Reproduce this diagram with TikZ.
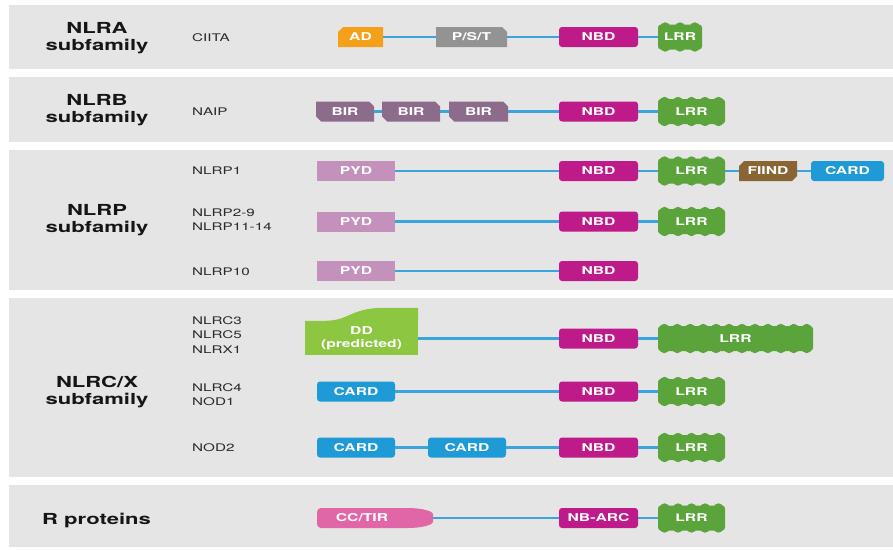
\documentclass[tikz,border=0pt]{standalone}
\usepackage{fontspec}
\setmainfont{TeX Gyre Heros}[FakeStretch=1.45]
\usetikzlibrary{calc}
\definecolor{band}{HTML}{E5E5E5}
\definecolor{linkblue}{HTML}{3AA4DC}
\definecolor{adorange}{HTML}{F5A01A}
\definecolor{pstgray}{HTML}{939393}
\definecolor{nbdmag}{HTML}{BE1A8A}
\definecolor{lrrgreen}{HTML}{5BA33B}
\definecolor{birmauve}{HTML}{8C6B8B}
\definecolor{pydmauve}{HTML}{C391BC}
\definecolor{fiindbrown}{HTML}{8A6534}
\definecolor{cardblue}{HTML}{1E9AD6}
\definecolor{ddgreen}{HTML}{8DC641}
\definecolor{ccpink}{HTML}{E066A8}
\definecolor{famtext}{HTML}{151515}
\definecolor{memtext}{HTML}{2A2A2A}
\newcommand\famfont{\fontsize{15.2}{17}\selectfont\bfseries}
\newcommand\memfont{\fontsize{10.5}{14.5}\selectfont}
\newcommand\domfont{\fontsize{10.8}{13}\selectfont\bfseries}
\newcommand\lrrbumps[2]{%
  \foreach \i in {1,...,#2}{%
    \fill[lrrgreen] ($(#1.north west)!{(\i-0.5)/#2}!(#1.north east)+(0,3.2)$) circle (5.2);
    \fill[lrrgreen] ($(#1.south west)!{(\i-0.5)/#2}!(#1.south east)+(0,-3.2)$) circle (5.2);
  }%
}
\begin{document}
\begin{tikzpicture}[x=1pt,y=-1pt,
  fam/.style={font=\famfont, text=famtext, align=center, inner sep=0pt},
  mem/.style={font=\memfont, text=memtext, align=left, anchor=west, inner sep=0pt},
  dom/.style={minimum height=20pt, inner sep=0pt, text=white, font=\domfont},
  plain/.style={dom, fill=#1, rounded corners=3pt},
  lrr/.style={dom, fill=lrrgreen, rounded corners=3pt, minimum height=25pt},
  conn/.style={draw=linkblue, line width=2.4pt},
  chNW/.style={dom, fill=band, path picture={\fill[#1]
      (path picture bounding box.south west) -- ([yshift=-5pt]path picture bounding box.north west)
      -- ([xshift=5pt]path picture bounding box.north west) -- (path picture bounding box.north east)
      -- (path picture bounding box.south east) -- cycle;}},
  chNE/.style={dom, fill=band, path picture={\fill[#1]
      (path picture bounding box.south west) -- (path picture bounding box.north west)
      -- ([xshift=-5pt]path picture bounding box.north east) -- ([yshift=-5pt]path picture bounding box.north east)
      -- (path picture bounding box.south east) -- cycle;}},
  chNESW/.style={dom, fill=band, path picture={\fill[#1]
      ([xshift=5pt]path picture bounding box.south west) -- ([yshift=5pt]path picture bounding box.south west)
      -- (path picture bounding box.north west)
      -- ([xshift=-5pt]path picture bounding box.north east) -- ([yshift=-5pt]path picture bounding box.north east)
      -- (path picture bounding box.south east) -- cycle;}},
  chNWSE/.style={dom, fill=band, path picture={\fill[#1]
      (path picture bounding box.south west) -- ([yshift=-5pt]path picture bounding box.north west)
      -- ([xshift=5pt]path picture bounding box.north west) -- (path picture bounding box.north east)
      -- ([yshift=5pt]path picture bounding box.south east) -- ([xshift=-5pt]path picture bounding box.south east)
      -- cycle;}},
  bullet/.style={dom, fill=band, rounded corners=4pt, path picture={\fill[#1]
      (path picture bounding box.south west) -- (path picture bounding box.north west)
      -- ([xshift=-30pt]path picture bounding box.north east)
      .. controls ([xshift=-8pt]path picture bounding box.north east) and ([yshift=6pt]path picture bounding box.east) .. (path picture bounding box.east)
      .. controls ([yshift=-6pt]path picture bounding box.east) and ([xshift=-8pt]path picture bounding box.south east) .. ([xshift=-30pt]path picture bounding box.south east)
      -- cycle;}}
]
\useasboundingbox (0,0) rectangle (893,549);
\fill[white] (0,0) rectangle (893,549);
% bands
\fill[band] (9,5) rectangle (893,69);
\fill[band] (9,77) rectangle (893,142);
\fill[band] (9,150) rectangle (893,290);
\fill[band] (9,298) rectangle (893,477);
\fill[band] (9,485) rectangle (893,547);

% family labels
\node[fam] (fNLRA) at (97,38.5) {NLRA\\subfamily};
\node[fam] (fNLRB) at (97,110.5) {NLRB\\subfamily};
\node[fam] (fNLRP) at (97,220) {NLRP\\subfamily};
\node[fam] (fNLRC) at (97,392.5) {NLRC/X\\subfamily};
\node[fam, anchor=west] (fR) at (42,520) {R proteins};

% member labels
\node[mem] (mCIITA) at (192,37.5) {CIITA};
\node[mem] (mNAIP) at (192,111.5) {NAIP};
\node[mem] (mP1) at (192,171) {NLRP1};
\node[mem] (mP2) at (192,219.5) {NLRP2-9\\NLRP11-14};
\node[mem] (mP10) at (192,271.5) {NLRP10};
\node[mem] (mC3) at (192,335) {NLRC3\\NLRC5\\NLRX1};
\node[mem] (mC4) at (192,394.5) {NLRC4\\NOD1};
\node[mem] (mN2) at (192,448) {NOD2};

% CIITA row
\node[chNW=adorange, minimum width=45pt] (ad) at (360.5,37) {AD};
\node[chNE=pstgray, minimum width=71pt] (pst) at (471.5,37) {P/S/T};
\node[plain=nbdmag, minimum width=79pt] (nbd1) at (598.5,37) {NBD};
\node[lrr, minimum width=44pt] (lrr1) at (680,37) {LRR};
\lrrbumps{lrr1}{3}
\draw[conn] (ad) -- (pst);
\draw[conn] (pst) -- (nbd1);
\draw[conn] (nbd1) -- (lrr1);

% NAIP row
\node[chNESW=birmauve, minimum width=58pt] (bir1) at (345,111.5) {BIR};
\node[chNESW=birmauve, minimum width=58pt] (bir2) at (411,111.5) {BIR};
\node[chNESW=birmauve, minimum width=59pt] (bir3) at (478.5,111.5) {BIR};
\node[plain=nbdmag, minimum width=79pt] (nbd2) at (598.5,111.5) {NBD};
\node[lrr, minimum width=67pt] (lrr2) at (691.5,111.5) {LRR};
\lrrbumps{lrr2}{5}
\draw[conn] (bir1) -- (bir2);
\draw[conn] (bir2) -- (bir3);
\draw[conn] (bir3) -- (nbd2);
\draw[conn] (nbd2) -- (lrr2);

% NLRP1 row
\node[plain=pydmauve, rounded corners=0pt, minimum width=78pt] (pyd1) at (356,171) {PYD};
\node[plain=nbdmag, minimum width=79pt] (nbd3) at (598.5,171) {NBD};
\node[lrr, minimum width=67pt] (lrr3) at (691.5,171) {LRR};
\lrrbumps{lrr3}{5}
\node[chNWSE=fiindbrown, minimum width=58pt] (fiind) at (768,171) {FIIND};
\node[plain=cardblue, minimum width=73pt] (card1) at (847.5,171) {CARD};
\draw[conn] (pyd1) -- (nbd3);
\draw[conn] (nbd3) -- (lrr3);
\draw[conn] (lrr3) -- (fiind);
\draw[conn] (fiind) -- (card1);

% NLRP2-9 row
\node[plain=pydmauve, rounded corners=0pt, minimum width=78pt] (pyd2) at (356,221.5) {PYD};
\node[plain=nbdmag, minimum width=79pt] (nbd4) at (598.5,221.5) {NBD};
\node[lrr, minimum width=67pt] (lrr4) at (691.5,221.5) {LRR};
\lrrbumps{lrr4}{5}
\draw[conn] (pyd2) -- (nbd4);
\draw[conn] (nbd4) -- (lrr4);

% NLRP10 row
\node[plain=pydmauve, rounded corners=0pt, minimum width=78pt] (pyd3) at (356,271) {PYD};
\node[plain=nbdmag, minimum width=79pt] (nbd5) at (598.5,271) {NBD};
\draw[conn] (pyd3) -- (nbd5);

% NLRC3 row
\node[dom, fill=ddgreen, minimum width=113pt, minimum height=34pt, align=center] (dd) at (361.5,338) {DD\\(predicted)};
\fill[ddgreen] ([yshift=-1pt]dd.north west) -- (dd.north west) -- ([xshift=20pt]dd.north west)
  .. controls ([xshift=45pt]dd.north west) and ([xshift=45pt,yshift=13pt]dd.north west) .. ([xshift=80pt,yshift=13pt]dd.north west)
  -- ([yshift=13pt]dd.north east) -- ([yshift=-1pt]dd.north east) -- cycle;
\node[plain=nbdmag, minimum width=79pt] (nbd6) at (598.5,338.5) {NBD};
\node[lrr, minimum width=155pt] (lrr6) at (735.5,338.5) {LRR};
\lrrbumps{lrr6}{12}
\draw[conn] (dd.east |- nbd6) -- (nbd6);
\draw[conn] (nbd6) -- (lrr6);

% NLRC4 row
\node[plain=cardblue, minimum width=78pt] (card2) at (356,391.5) {CARD};
\node[plain=nbdmag, minimum width=79pt] (nbd7) at (598.5,391.5) {NBD};
\node[lrr, minimum width=67pt] (lrr7) at (691.5,391.5) {LRR};
\lrrbumps{lrr7}{5}
\draw[conn] (card2) -- (nbd7);
\draw[conn] (nbd7) -- (lrr7);

% NOD2 row
\node[plain=cardblue, minimum width=78pt] (card3) at (356,447.5) {CARD};
\node[plain=cardblue, minimum width=78pt] (card4) at (467,447.5) {CARD};
\node[plain=nbdmag, minimum width=79pt] (nbd8) at (598.5,447.5) {NBD};
\node[lrr, minimum width=67pt] (lrr8) at (691.5,447.5) {LRR};
\lrrbumps{lrr8}{5}
\draw[conn] (card3) -- (card4);
\draw[conn] (card4) -- (nbd8);
\draw[conn] (nbd8) -- (lrr8);

% R proteins row
\node[bullet=ccpink, minimum width=116pt] (cctir) at (375,518) {CC/TIR\hspace*{26pt}};
\node[plain=nbdmag, minimum width=79pt] (nbarc) at (598.5,518) {NB-ARC};
\node[lrr, minimum width=67pt] (lrr9) at (691.5,518) {LRR};
\lrrbumps{lrr9}{5}
\draw[conn] (cctir) -- (nbarc);
\draw[conn] (nbarc) -- (lrr9);
\end{tikzpicture}
\end{document}
